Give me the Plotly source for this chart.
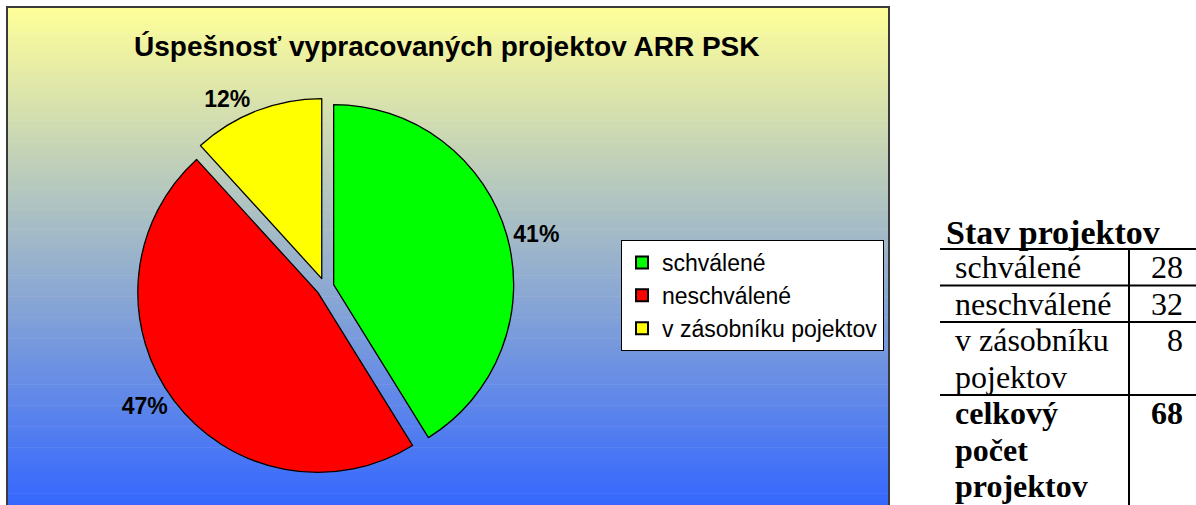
import plotly.graph_objects as go

# ---- data ----
categories = ["schválené", "neschválené", "v zásobníku pojektov"]
counts = [28, 32, 8]
colors = ["#00FF00", "#FF0000", "#FFFF00"]
chart_title = "Úspešnosť vypracovaných projektov ARR PSK"
table_title = "Stav projektov"
table_labels = ["schválené", "neschválené", "v zásobníku<br>pojektov"]
total_label = "celkový<br>počet<br>projektov"

W, H = 1196, 505


def px(x):
    return x / W


def py(y):
    return 1 - y / H


sans = "Liberation Sans, Arial, sans-serif"

fig = go.Figure()

fig.add_trace(go.Pie(
    labels=categories,
    values=counts,
    sort=False,
    direction="clockwise",
    rotation=0,
    pull=[0.05, 0.05, 0.05],
    marker=dict(colors=colors, line=dict(color="black", width=1.3)),
    texttemplate="%{percent:.0%}",
    textposition="outside",
    outsidetextfont=dict(family=sans, size=23, color="black", weight="bold"),
    domain=dict(x=[px(325 - 189), px(325 + 189)], y=[py(476), py(98)]),
    hoverinfo="label+value+percent",
))

shapes = []
# gradient background of the chart area
x0, x1, y0, y1 = 7, 889, 7, 510
top = (255, 255, 153)
bot = (51, 102, 255)
n = 120
for i in range(n):
    t = (i + 0.5) / n
    c = tuple(int(round(top[k] + (bot[k] - top[k]) * t)) for k in range(3))
    ya = y0 + (y1 - y0) * i / n
    yb = y0 + (y1 - y0) * (i + 1) / n + 0.6
    shapes.append(dict(type="rect", xref="paper", yref="paper", layer="below",
                       x0=px(x0), x1=px(x1), y0=py(yb), y1=py(ya),
                       line=dict(width=0), fillcolor="rgb(%d,%d,%d)" % c))
shapes.append(dict(type="rect", xref="paper", yref="paper", layer="below",
                   x0=px(x0), x1=px(x1), y0=py(y1), y1=py(y0),
                   line=dict(color="#3a3a3a", width=2), fillcolor="rgba(0,0,0,0)"))

# table lines
line_h = 36.5
tbl_top = 249
tbl_left, tbl_right, col_x = 940, 1196, 1129
row_lines = [len(l.split("<br>")) for l in table_labels] + [len(total_label.split("<br>"))]
ys = [tbl_top]
for nl in row_lines:
    ys.append(ys[-1] + nl * line_h)
for yv in ys[:-1]:
    shapes.append(dict(type="line", xref="paper", yref="paper",
                       x0=px(tbl_left), x1=px(tbl_right), y0=py(yv), y1=py(yv),
                       line=dict(color="black", width=2)))
shapes.append(dict(type="line", xref="paper", yref="paper",
                   x0=px(col_x), x1=px(col_x), y0=py(tbl_top), y1=py(505),
                   line=dict(color="black", width=2)))

serif = "Liberation Serif, Times New Roman, serif"
ann = []
ann.append(dict(text=chart_title, x=px(447), y=py(47), xref="paper", yref="paper",
                showarrow=False, xanchor="center", yanchor="middle",
                font=dict(family=sans, size=28, color="black", weight="bold")))
ann.append(dict(text=table_title, x=px(1053), y=py(233), xref="paper", yref="paper",
                showarrow=False, xanchor="center", yanchor="middle",
                font=dict(family=serif, size=34, color="black", weight="bold")))

all_labels = table_labels + [total_label]
all_vals = counts + [sum(counts)]
for r, (lab, val) in enumerate(zip(all_labels, all_vals)):
    bold = (r == len(all_labels) - 1)
    f = dict(family=serif, size=32, color="black", weight="bold" if bold else "normal")
    for j, part in enumerate(lab.split("<br>")):
        yc = ys[r] + line_h * (j + 0.5)
        ann.append(dict(text=part, x=px(953), y=py(yc), xref="paper", yref="paper",
                        showarrow=False, xanchor="left", yanchor="middle", font=f))
    ann.append(dict(text=str(val), x=px(1185), y=py(ys[r] + line_h * 0.5), xref="paper", yref="paper",
                    showarrow=False, xanchor="right", yanchor="middle", font=f))

fig.update_layout(
    width=W, height=H,
    margin=dict(l=0, r=0, t=0, b=0),
    paper_bgcolor="white",
    plot_bgcolor="white",
    shapes=shapes,
    annotations=ann,
    showlegend=True,
    legend=dict(x=px(621), y=py(240), xanchor="left", yanchor="top",
                bgcolor="white", bordercolor="black", borderwidth=1,
                font=dict(family=sans, size=23, color="black"),
                itemsizing="constant", tracegroupgap=0),
)

fig.write_html("out.html", config={"displayModeBar": False})

# remove the browser's default body margin so the figure sits at the page origin
with open("out.html", "r", encoding="utf-8") as fh:
    html = fh.read()
html = html.replace("<head>", "<head><style>html,body{margin:0;padding:0;overflow:hidden;}</style>", 1)
with open("out.html", "w", encoding="utf-8") as fh:
    fh.write(html)
